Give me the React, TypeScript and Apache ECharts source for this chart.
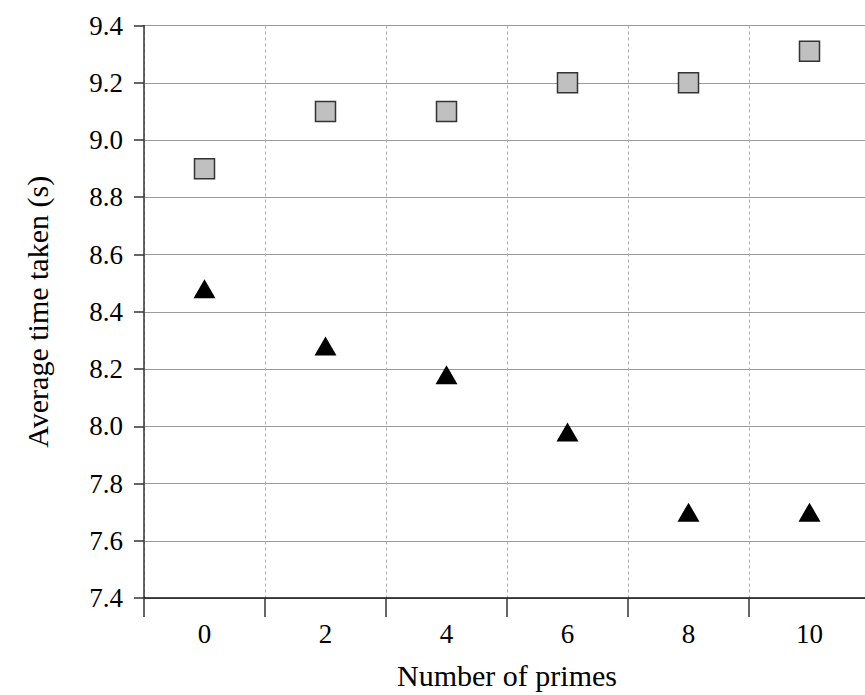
import React, { useEffect, useRef } from "react";
import * as echarts from "echarts";

const categories = ["0", "2", "4", "6", "8", "10"];
const squareValues = [8.9, 9.1, 9.1, 9.2, 9.2, 9.31];
const triangleValues = [8.48, 8.28, 8.18, 7.98, 7.7, 7.7];
const yMin = 7.4;
const yMax = 9.4;
const yStep = 0.2;
const xTitle = "Number of primes";
const yTitle = "Average time taken (s)";

const FONT = "Liberation Serif";

export default function App() {
  const ref = useRef<HTMLDivElement>(null);
  useEffect(() => {
    if (!ref.current) return;
    const chart = echarts.init(ref.current, undefined, { renderer: "svg" });
    chart.setOption({
      animation: false,
      backgroundColor: "#ffffff",
      textStyle: { fontFamily: FONT },
      grid: { left: 144, right: 10, top: 25.5, bottom: 94, containLabel: false },
      xAxis: {
        type: "category",
        data: categories,
        boundaryGap: true,
        name: xTitle,
        nameLocation: "middle",
        nameGap: 62,
        nameTextStyle: { fontFamily: FONT, fontSize: 30, color: "#000" },
        axisLine: { show: true, lineStyle: { color: "#111", width: 1.5 } },
        axisTick: { show: true, length: 19, inside: false, alignWithLabel: false, lineStyle: { color: "#333", width: 1.5 } },
        axisLabel: { fontFamily: FONT, fontSize: 27, color: "#000", margin: 22 },
        splitLine: { show: true, lineStyle: { color: "#aaaaaa", width: 1, type: [3, 3] } },
      },
      yAxis: {
        type: "value",
        min: yMin,
        max: yMax,
        interval: yStep,
        name: yTitle,
        nameLocation: "middle",
        nameGap: 92,
        nameTextStyle: { fontFamily: FONT, fontSize: 30, color: "#000" },
        axisLine: { show: true, lineStyle: { color: "#333", width: 1.5 } },
        axisTick: { show: true, length: 10, inside: false, lineStyle: { color: "#333", width: 1.5 } },
        axisLabel: {
          fontFamily: FONT,
          fontSize: 27,
          color: "#000",
          margin: 21,
          formatter: (v: number) => v.toFixed(1),
        },
        splitLine: { show: true, lineStyle: { color: "#9a9a9a", width: 1.2 } },
      },
      series: [
        {
          type: "scatter",
          data: squareValues,
          symbol: "rect",
          symbolSize: 20,
          itemStyle: { color: "#c0c0c0", borderColor: "#333", borderWidth: 1.5, opacity: 1 },
          z: 3,
        },
        {
          type: "scatter",
          data: triangleValues,
          symbol: "triangle",
          symbolSize: [22, 19],
          itemStyle: { color: "#000", opacity: 1 },
          z: 3,
        },
      ],
    });
    return () => chart.dispose();
  }, []);
  return (
    <div style={{ position: "fixed", left: 0, top: 0, width: 865, height: 695, overflow: "hidden", background: "#fff" }}>
      <div ref={ref} style={{ width: 880, height: 695 }} />
    </div>
  );
}
